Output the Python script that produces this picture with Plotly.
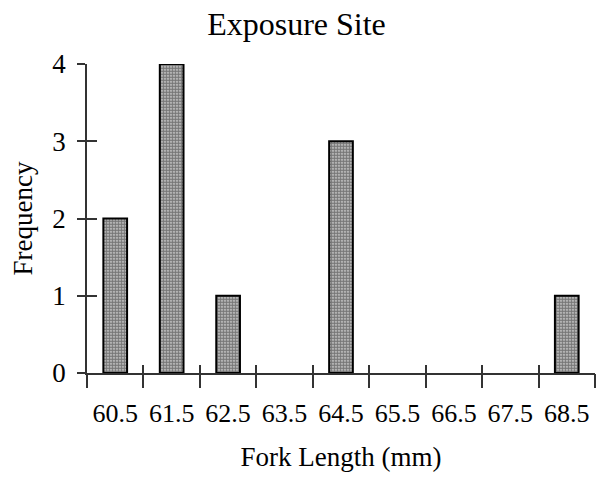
import plotly.graph_objects as go

fork_length = [60.5, 61.5, 62.5, 63.5, 64.5, 65.5, 66.5, 67.5, 68.5]
frequency = [2, 4, 1, 0, 3, 0, 0, 0, 1]
tick_labels = ["60.5", "61.5", "62.5", "63.5", "64.5", "65.5", "66.5", "67.5", "68.5"]
y_ticks = [0, 1, 2, 3, 4]

boundaries = [v - 0.5 for v in fork_length] + [fork_length[-1] + 0.5]
bar_x = [x for x, f in zip(fork_length, frequency) if f > 0]
bar_y = [f for f in frequency if f > 0]

FONT = "Liberation Serif, Times New Roman, serif"

fig = go.Figure()
fig.add_trace(go.Bar(
    x=bar_x, y=bar_y, width=0.42,
    marker=dict(color="white",
                line=dict(color="black", width=2),
                pattern=dict(shape=".", size=3, solidity=0.75,
                             fgcolor="#111111", bgcolor="#dddddd")),
    cliponaxis=False, showlegend=False,
))
# empty traces so the overlaid tick axes get drawn
for xa, ya in [("x2", "y"), ("x3", "y"), ("x", "y2")]:
    fig.add_trace(go.Scatter(x=[], y=[], xaxis=xa, yaxis=ya, showlegend=False, hoverinfo="skip"))

rng_x = [boundaries[0], boundaries[-1]]
fig.update_layout(
    width=605, height=477,
    margin=dict(l=87, r=10, t=64, b=104),
    paper_bgcolor="white", plot_bgcolor="white",
    font=dict(family=FONT, color="black"),
    title=dict(text="Exposure Site", x=0.49, xref="container", xanchor="center",
               y=1 - 24 / 477, yref="container", yanchor="middle",
               font=dict(size=32, family=FONT, color="black")),
    xaxis=dict(range=rng_x, tickvals=fork_length, ticktext=tick_labels,
               ticks="", showgrid=False, zeroline=False,
               showline=True, linecolor="#333", linewidth=1.5,
               tickfont=dict(size=26, family=FONT),
               ticklabelstandoff=16,
               title=dict(text="Fork Length (mm)", font=dict(size=27, family=FONT), standoff=20)),
    xaxis2=dict(range=rng_x, overlaying="x", anchor="y", side="bottom",
                tickvals=boundaries, ticks="outside", ticklen=14, tickwidth=1.5,
                tickcolor="#333", showticklabels=False, showgrid=False, zeroline=False),
    xaxis3=dict(range=rng_x, overlaying="x", anchor="y", side="bottom",
                tickvals=boundaries, ticks="inside", ticklen=8, tickwidth=1.5,
                tickcolor="#333", showticklabels=False, showgrid=False, zeroline=False),
    yaxis=dict(range=[0, 4], tickvals=y_ticks, ticks="outside", ticklen=8, tickwidth=1.5,
               tickcolor="#333", showgrid=False, zeroline=False,
               showline=True, linecolor="#333", linewidth=1.5,
               tickfont=dict(size=27, family=FONT), ticklabelstandoff=6,
               title=dict(text="Frequency", font=dict(size=27, family=FONT), standoff=12)),
    yaxis2=dict(range=[0, 4], overlaying="y", anchor="x", side="left",
                tickvals=y_ticks[1:], ticks="inside", ticklen=10, tickwidth=1.5,
                tickcolor="#333", showticklabels=False, showgrid=False, zeroline=False),
)

fig.write_html("out.html")
